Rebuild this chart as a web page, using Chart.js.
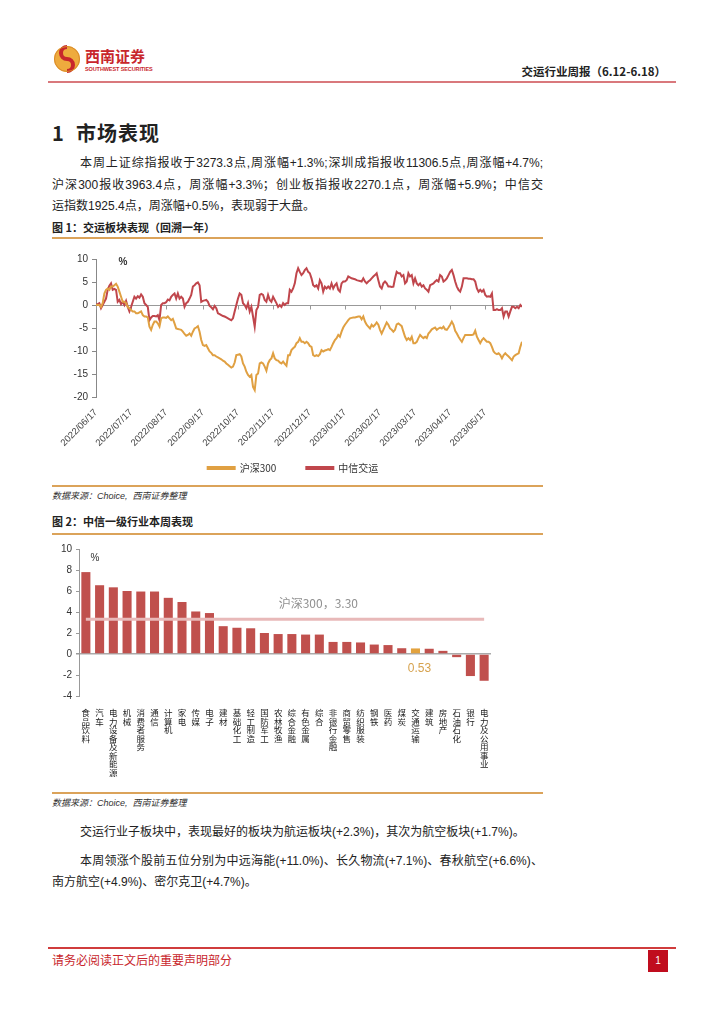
<!DOCTYPE html>
<html><head><meta charset="utf-8">
<script src="https://cdn.jsdelivr.net/npm/chart.js@4.4.0/dist/chart.umd.min.js"></script>
<style>
html,body{margin:0;padding:0;background:#fff;}
body{width:724px;height:1024px;position:relative;overflow:hidden;font-family:"Liberation Sans","Noto Sans CJK SC",sans-serif;color:#222;}
.abs{position:absolute;white-space:nowrap;}
.jl{text-align:justify;text-align-last:justify;}
.p{font-size:12px;line-height:16px;height:16px;}
.cap{font-size:11px;font-weight:bold;line-height:14px;font-family:"Noto Sans CJK SC",sans-serif;}
.gold{position:absolute;left:52px;width:491px;height:1.5px;background:#dba35a;}
.src{font-size:9px;font-style:italic;line-height:12px;color:#333;}
</style></head><body>

<svg class="abs" style="left:53px;top:45px" width="28" height="28" viewBox="0 0 28 28">
  <circle cx="14" cy="14" r="13" fill="#eeab3e"/>
  <path d="M14 2 A6 6 0 0 0 14 14 A6 6 0 0 1 14 26" fill="none" stroke="#c8262c" stroke-width="4"/>
  <circle cx="14" cy="14" r="12.5" fill="none" stroke="#d98a2a" stroke-width="1"/>
</svg>
<div class="abs" style="left:85px;top:47px;font-size:15px;font-weight:bold;color:#c8262c;font-family:'Noto Sans CJK SC';line-height:18px;">西南证券</div>
<div class="abs" style="left:85px;top:66px;font-size:5.5px;font-weight:bold;color:#c8262c;line-height:7px;letter-spacing:-0.1px;">SOUTHWEST SECURITIES</div>
<div class="abs" style="right:58px;top:63px;font-size:11.5px;font-weight:bold;line-height:16px;font-family:'Noto Sans CJK SC';">交运行业周报（6.12-6.18）</div>
<div class="abs" style="left:48px;top:81px;width:628px;height:2px;background:#d9787c;"></div>

<div class="abs" style="left:52px;top:121px;font-size:20px;font-weight:bold;line-height:24px;font-family:'Noto Sans CJK SC';letter-spacing:1px;">1&nbsp;&nbsp;市场表现</div>

<div class="abs p jl" style="left:80px;top:155px;width:463px;">本周上证综指报收于3273.3点,周涨幅+1.3%;深圳成指报收11306.5点,周涨幅+4.7%;</div>
<div class="abs p jl" style="left:52px;top:177px;width:491px;">沪深300报收3963.4点，周涨幅+3.3%；创业板指报收2270.1点，周涨幅+5.9%；中信交</div>
<div class="abs p" style="left:52px;top:198px;">运指数1925.4点，周涨幅+0.5%，表现弱于大盘。</div>

<div class="abs cap" style="left:52px;top:220px;">图 1：交运板块表现（回溯一年）</div>
<div class="gold" style="top:237px;"></div>
<div class="abs" style="left:52px;top:245px;width:492px;height:240px;"><canvas id="c1" width="492" height="240"></canvas></div>
<div class="gold" style="top:485px;"></div>
<div class="abs src" style="left:52px;top:490px;">数据来源：Choice,&nbsp; 西南证券整理</div>

<div class="abs cap" style="left:52px;top:514px;">图 2：中信一级行业本周表现</div>
<div class="gold" style="top:533px;"></div>
<div class="abs" style="left:52px;top:538px;width:492px;height:252px;"><canvas id="c2" width="492" height="252"></canvas></div>
<div class="gold" style="top:792px;"></div>
<div class="abs src" style="left:52px;top:797px;">数据来源：Choice,&nbsp; 西南证券整理</div>

<div class="abs p" style="left:80px;top:824px;">交运行业子板块中，表现最好的板块为航运板块(+2.3%)，其次为航空板块(+1.7%)。</div>
<div class="abs p jl" style="left:80px;top:853px;width:463px;">本周领涨个股前五位分别为中远海能(+11.0%)、长久物流(+7.1%)、春秋航空(+6.6%)、</div>
<div class="abs p" style="left:52px;top:874px;">南方航空(+4.9%)、密尔克卫(+4.7%)。</div>

<div class="abs" style="left:48px;top:947px;width:628px;height:1.5px;background:#d03c3c;"></div>
<div class="abs" style="left:52px;top:952px;font-size:12px;line-height:16px;color:#c8262c;font-family:'Noto Sans CJK SC';">请务必阅读正文后的重要声明部分</div>
<div class="abs" style="left:648px;top:950px;width:20px;height:22px;background:#c00d1e;color:#fff;font-size:10px;line-height:22px;text-align:center;">1</div>

<script>
// ---- Chart 1 data ----
const dateTicks = ['2022/06/17','2022/07/17','2022/08/17','2022/09/17','2022/10/17','2022/11/17','2022/12/17','2023/01/17','2023/02/17','2023/03/17','2023/04/17','2023/05/17'];
const dateTickIdx = [0,21,42,64,85,106,128,149,170,191,212,233];
const hs300 = [0.0,0.0,0.0,-0.4,0.4,2.5,3.3,3.6,3.3,4.0,
4.0,4.3,4.6,4.0,2.9,1.8,0.7,0.7,0.4,-0.4,
-0.7,-1.1,-1.4,-1.4,-1.8,-1.8,-1.6,-1.4,-2.2,-2.5,
-2.5,-2.7,-4.7,-5.4,-4.3,-3.6,-3.6,-4.0,-4.7,-2.9,
-2.7,-2.7,-2.8,-2.5,-2.9,-3.3,-3.0,-4.0,-5.1,-5.2,
-5.3,-5.4,-5.8,-6.3,-6.7,-6.5,-6.2,-6.7,-5.8,-5.1,
-4.9,-4.6,-5.8,-7.6,-8.7,-8.9,-8.7,-9.4,-10.1,-10.4,
-10.9,-10.9,-11.2,-11.4,-11.6,-11.8,-12.1,-12.3,-12.7,-13.0,
-13.3,-13.6,-13.4,-12.5,-10.9,-10.8,-10.7,-11.2,-12.7,-13.4,
-14.5,-15.2,-15.6,-15.2,-17.8,-18.5,-15.2,-14.9,-12.7,-12.5,
-12.7,-13.4,-14.3,-12.7,-12.0,-11.6,-10.5,-11.6,-12.0,-12.1,
-12.5,-12.7,-12.3,-12.8,-13.2,-10.9,-10.9,-9.8,-9.4,-9.1,
-8.3,-8.0,-7.2,-8.0,-8.0,-8.3,-8.0,-8.3,-8.9,-9.1,
-10.9,-11.1,-10.9,-11.1,-10.7,-9.8,-10.1,-9.9,-9.8,-9.6,
-9.8,-9.1,-8.3,-7.6,-7.2,-6.5,-6.9,-5.8,-4.9,-4.3,
-3.8,-3.3,-2.9,-2.8,-2.7,-2.7,-2.6,-2.5,-2.5,-3.1,
-2.5,-3.6,-4.3,-4.7,-5.1,-4.3,-4.7,-4.3,-3.8,-4.3,
-5.4,-6.2,-5.4,-4.6,-3.8,-4.3,-5.1,-5.4,-5.8,-5.4,
-4.2,-4.0,-4.3,-4.6,-5.8,-6.9,-7.6,-7.2,-7.6,-6.9,
-8.3,-8.3,-8.0,-7.2,-6.5,-6.9,-7.2,-6.9,-7.2,-6.2,
-5.8,-5.3,-5.1,-4.9,-5.4,-5.1,-4.9,-5.1,-4.7,-5.3,
-5.4,-4.9,-4.3,-3.6,-4.3,-5.6,-6.2,-6.9,-7.5,-8.0,
-7.2,-6.5,-6.5,-6.5,-6.5,-6.5,-6.4,-5.6,-6.9,-7.6,
-8.3,-7.6,-7.2,-7.6,-8.0,-8.0,-8.3,-9.1,-10.1,-10.5,
-10.7,-10.5,-10.9,-11.6,-10.9,-10.5,-10.9,-11.2,-11.6,-12.0,
-11.2,-10.9,-10.7,-10.5,-9.1,-8.0];
const jiaoyun = [0.0,0.2,0.4,-0.7,0.0,0.7,1.4,3.3,4.2,4.7,
3.3,3.5,3.3,0.7,1.1,0.2,0.7,0.0,0.9,-0.4,
-1.4,-0.4,0.7,1.8,1.4,1.9,1.6,2.3,1.8,0.4,
0.0,-0.4,-3.3,-2.7,-2.4,-2.4,-2.5,-2.2,-3.3,0.0,
0.4,0.4,0.6,1.2,1.0,1.8,2.2,2.5,1.4,2.5,
1.4,1.8,1.4,-0.4,0.4,0.7,1.4,2.2,4.0,4.3,
4.7,4.9,4.3,0.7,0.9,1.0,1.1,0.7,-0.2,-0.5,
-0.9,-0.2,-0.7,-1.8,-2.0,-2.2,-2.4,-2.5,-2.7,-2.9,
-3.1,-3.3,-2.9,-1.4,0.0,1.4,2.5,2.2,0.4,0.0,
-0.7,0.4,-1.4,-0.4,-2.5,-4.7,-1.1,-0.4,2.2,2.4,
2.2,1.1,0.7,2.2,1.1,0.7,1.8,1.1,0.4,-0.4,
0.0,-0.4,0.4,0.0,0.4,0.4,3.3,2.9,3.6,4.7,
6.9,8.0,7.2,6.5,6.9,7.6,8.0,7.2,6.9,5.8,
4.3,4.0,4.3,3.6,5.4,4.7,2.9,4.0,3.6,4.0,
3.6,4.7,3.6,4.3,4.7,3.3,2.9,4.7,5.1,5.1,
5.4,6.2,6.0,5.8,5.7,5.6,5.4,5.3,5.2,5.1,
5.8,5.1,4.7,5.1,5.4,5.8,6.2,6.5,6.9,5.4,
4.0,3.6,4.7,5.1,4.7,4.0,4.0,3.9,4.0,5.8,
7.2,6.9,6.9,6.2,6.5,4.7,5.1,6.9,6.2,6.5,
4.7,5.8,4.7,4.3,4.7,4.0,4.3,3.6,3.3,2.9,
4.3,4.5,4.7,5.1,5.4,5.1,6.5,6.2,5.1,5.4,
5.8,6.5,7.2,7.6,6.5,5.1,4.0,3.3,2.9,4.0,
5.8,5.8,5.8,5.7,5.7,5.6,5.6,5.1,3.6,2.9,
3.3,2.9,3.3,2.2,1.8,1.9,1.8,2.5,-1.1,-1.1,
-0.9,-1.1,-1.1,-0.7,-2.5,-1.4,-1.4,-2.5,-1.4,-0.4,
-0.4,-0.7,-0.4,-0.7,0.0,-0.4];

// ---- Chart 2 data ----
const industries = ['食品饮料','汽车','电力设备及新能源','机械','消费者服务','通信','计算机','家电','传媒','电子','建材','基础化工','轻工制造','国防军工','农林牧渔','综合金融','有色金属','综合','非银行金融','商贸零售','纺织服装','钢铁','医药','煤炭','交通运输','建筑','房地产','石油石化','银行','电力及公用事业'];
const weeklyChange = [7.8,6.55,6.35,6.0,5.95,5.95,5.35,4.95,4.05,3.9,2.65,2.5,2.45,2.0,1.9,1.9,1.85,1.85,1.15,1.15,1.1,0.9,0.85,0.55,0.53,0.5,0.3,-0.3,-2.1,-2.55];
const hs300Weekly = 3.30;
const highlightIndustry = '交通运输';
const highlightLabel = '0.53';

Chart.defaults.font.family = '"Liberation Sans","Noto Sans CJK SC",sans-serif';
Chart.defaults.color = '#333';

const c1Extras = {
  id:'c1Extras',
  beforeDatasetsDraw(chart){
    const {ctx, scales:{x,y}, chartArea} = chart;
    const y0 = Math.round(y.getPixelForValue(0)) + 0.5;
    ctx.save();
    ctx.strokeStyle = '#999'; ctx.lineWidth = 1;
    dateTickIdx.forEach(v => {
      const px = Math.round(x.getPixelForValue(v)) + 0.5;
      ctx.beginPath(); ctx.moveTo(px, y0); ctx.lineTo(px, y0 + 4); ctx.stroke();
    });
    ctx.fillStyle = '#333';
    ctx.font = 'bold 10px "Liberation Sans"';
    ctx.textAlign = 'center'; ctx.textBaseline = 'middle';
    ctx.fillText('%', chartArea.left + 27, chartArea.top + 3);
    ctx.restore();
  }
};

new Chart(document.getElementById('c1'), {
  type:'line',
  data:{datasets:[
    {label:'沪深300', data: hs300.map((v,i)=>({x:i,y:v})), borderColor:'#e0a042', backgroundColor:'#e0a042', borderWidth:2, pointRadius:0, tension:0},
    {label:'中信交运', data: jiaoyun.map((v,i)=>({x:i,y:v})), borderColor:'#c0464c', backgroundColor:'#c0464c', borderWidth:2, pointRadius:0, tension:0}
  ]},
  options:{
    responsive:false, animation:false, devicePixelRatio:1, events:[],
    layout:{padding:{top:14,right:22,left:12,bottom:2}},
    plugins:{
      legend:{position:'bottom', labels:{boxWidth:27, boxHeight:2, padding:10, color:'#333', font:{size:10, family:'"Noto Sans CJK SC"'},
        generateLabels(chart){
          const items = Chart.defaults.plugins.legend.labels.generateLabels(chart);
          items.forEach((it,i)=>{ if(i===0) it.text = it.text + '\u2003\u2003'; });
          return items;
        }}},
      tooltip:{enabled:false}
    },
    scales:{
      x:{type:'linear', min:0, max:255,
         afterBuildTicks:s=>{ s.ticks = dateTickIdx.map(v=>({value:v})); },
         ticks:{callback:(v,i)=>dateTicks[i], maxRotation:45, minRotation:45, autoSkip:false, color:'#444', font:{size:9.5}, padding:2},
         grid:{display:false}, border:{display:false},
         afterFit:s=>{ s.height = 56; }},
      y:{min:-20, max:10,
         ticks:{stepSize:5, color:'#333', font:{size:10}, padding:4},
         grid:{color:c=>c.tick && c.tick.value===0 ? '#999' : 'rgba(0,0,0,0)', tickColor:'#888', tickLength:4, lineWidth:1},
         border:{display:true, color:'#888'},
         afterFit:s=>{ s.width = 32; }}
    }
  },
  plugins:[c1Extras]
});

const c2Extras = {
  id:'c2Extras',
  afterDatasetsDraw(chart){
    const {ctx, scales:{x,y}, chartArea} = chart;
    ctx.save();
    ctx.textAlign = 'center'; ctx.textBaseline = 'middle';
    ctx.fillStyle = '#333';
    ctx.font = '10px "Liberation Sans"';
    ctx.fillText('%', chartArea.left + 16, chartArea.top + 9);
    ctx.fillStyle = '#909090';
    ctx.font = '12px "Noto Sans CJK SC"';
    ctx.fillText('沪深300，' + hs300Weekly.toFixed(2), x.getPixelForValue(17) - 1, y.getPixelForValue(hs300Weekly) - 16);
    const hi = industries.indexOf(highlightIndustry);
    ctx.fillStyle = '#d6a24e';
    ctx.font = '12px "Liberation Sans"';
    ctx.fillText(highlightLabel, x.getPixelForValue(hi) + 4, y.getPixelForValue(0) + 15);
    ctx.restore();
  }
};

new Chart(document.getElementById('c2'), {
  type:'bar',
  data:{
    labels: industries.map(s=>s.split('')),
    datasets:[
      {type:'line', label:'沪深300', data: industries.map(()=>hs300Weekly), borderColor:'#e8b9b9', borderWidth:3, pointRadius:0, order:0},
      {type:'bar', label:'行业', data: weeklyChange, order:1,
       backgroundColor: industries.map(s=> s===highlightIndustry ? '#e2a23e' : '#c0504d'),
       categoryPercentage:1, barPercentage:0.66}
    ]
  },
  options:{
    responsive:false, animation:false, devicePixelRatio:1, events:[],
    layout:{padding:{top:11,right:53,left:0,bottom:0}},
    plugins:{legend:{display:false}, tooltip:{enabled:false}},
    scales:{
      x:{grid:{display:false}, border:{display:false},
         ticks:{autoSkip:false, maxRotation:0, minRotation:0, padding:5, color:'#222', font:{size:8.5, lineHeight:1.0, family:'"Noto Sans CJK SC"'}},
         afterFit:s=>{ s.height = 94; }},
      y:{min:-4, max:10,
         ticks:{stepSize:2, color:'#333', font:{size:10}, padding:4},
         grid:{color:c=>c.tick && c.tick.value===0 ? '#aaa' : 'rgba(0,0,0,0)', lineWidth:c=>c.tick && c.tick.value===0 ? 1.5 : 1, tickColor:'#999', tickLength:3},
         border:{display:true, color:'#999'},
         afterFit:s=>{ s.width = 27; }}
    }
  },
  plugins:[c2Extras]
});
</script>
</body></html>
